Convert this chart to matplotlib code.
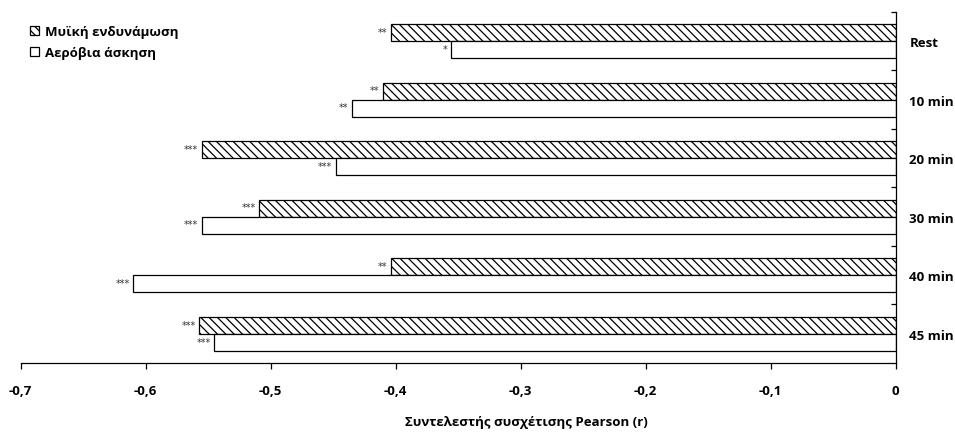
import numpy as np
import matplotlib
matplotlib.use("Agg")
import matplotlib.pyplot as plt
from matplotlib.ticker import FuncFormatter

plt.rcParams['font.family'] = ['Open Sans', 'DejaVu Sans']
plt.rcParams['hatch.linewidth'] = 0.9
plt.rcParams['hatch.color'] = '#333333'

# --------------- data ----------------------------------------------
categories = ["Rest", "10 min", "20 min", "30 min", "40 min", "45 min"]
strength = [-0.404, -0.410, -0.555, -0.509, -0.404, -0.557]   # Μυϊκή ενδυνάμωση
aerobic = [-0.356, -0.435, -0.448, -0.555, -0.610, -0.545]    # Αερόβια άσκηση
strength_sig = ["**", "**", "***", "***", "**", "***"]
aerobic_sig = ["*", "**", "***", "***", "***", "***"]
series_labels = ["Μυϊκή ενδυνάμωση", "Αερόβια άσκηση"]
xlabel = "Συντελεστής συσχέτισης Pearson (r)"

fig = plt.figure(figsize=(9.55, 4.35), dpi=100)
ax = fig.add_axes([0.0215, 0.1632, 0.9162, 0.8076])

idx = np.arange(len(categories))
h = 0.29

bars_s = ax.barh(idx - h / 2, strength, height=h, color="white", edgecolor="black",
                 linewidth=0.9, hatch="\\\\\\\\", label=series_labels[0])
bars_a = ax.barh(idx + h / 2, aerobic, height=h, color="white", edgecolor="black",
                 linewidth=0.9, label=series_labels[1])

# significance stars at the end of each bar
for bars, stars in ((bars_s, strength_sig), (bars_a, aerobic_sig)):
    for b, s in zip(bars, stars):
        ax.annotate(s, xy=(b.get_width(), b.get_y() + b.get_height() / 2),
                    xytext=(-2.5, 0.5), textcoords="offset points",
                    ha="right", va="center", fontsize=7, family="DejaVu Sans",
                    color="#333333")

ax.set_xlim(-0.7, 0)
ax.set_ylim(len(categories) - 0.5, -0.5)

# axes styling, Excel-like
for side in ("top", "left"):
    ax.spines[side].set_visible(False)
for side in ("bottom", "right"):
    ax.spines[side].set_linewidth(0.9)

ax.set_xticks(np.arange(-0.7, 0.001, 0.1))
ax.xaxis.set_major_formatter(FuncFormatter(
    lambda v, p: "0" if abs(v) < 1e-9 else f"{v:.1f}".replace(".", ",")))
ax.tick_params(axis="x", direction="out", length=4.3, width=0.9, pad=11,
               labelsize=9.5)

ax.yaxis.tick_right()
ax.set_yticks(idx)
ax.set_yticklabels(categories)
ax.set_yticks(np.arange(-0.5, len(categories) - 0.5, 1), minor=True)
ax.tick_params(axis="y", which="major", length=0, pad=10, labelsize=9.5)
ax.tick_params(axis="y", which="minor", direction="in", length=3.6, width=0.9)

for lab in ax.get_xticklabels() + ax.get_yticklabels():
    lab.set_fontweight("bold")

ax.set_xlabel(xlabel, fontsize=9.5, fontweight="bold")
ax.xaxis.set_label_coords(0.578, -0.148)

fig.legend(handles=[bars_s, bars_a], loc="upper left",
           bbox_to_anchor=(0.031, 0.94), frameon=False,
           prop={"weight": "bold", "size": 9.5},
           handlelength=0.7, handleheight=0.7, handletextpad=0.45,
           labelspacing=0.6, borderpad=0, borderaxespad=0)

fig.savefig("out.png", dpi=100)
